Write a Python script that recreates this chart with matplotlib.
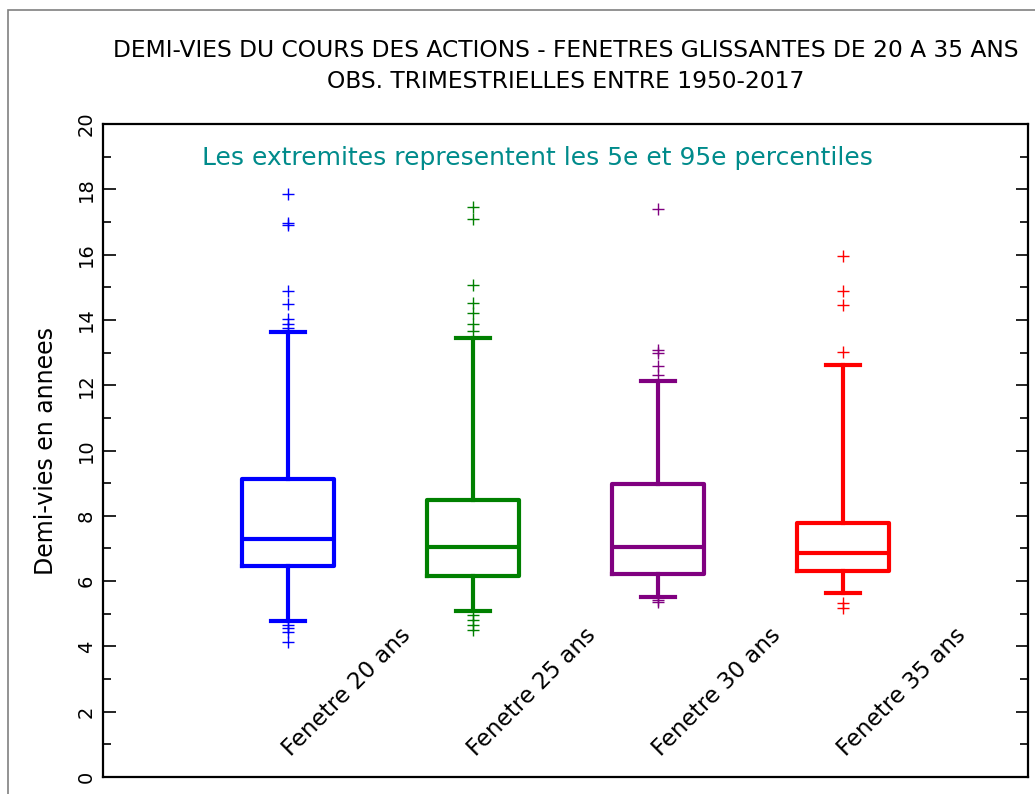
import matplotlib
matplotlib.use('Agg')
import matplotlib.pyplot as plt
from matplotlib.patches import Rectangle

# valeurs (annees)
labels = ['Fenetre 20 ans', 'Fenetre 25 ans', 'Fenetre 30 ans', 'Fenetre 35 ans']
colors = ['#0000FF', '#008000', '#800080', '#FF0000']
q1 = [6.46, 6.16, 6.22, 6.31]
med = [7.29, 7.04, 7.04, 6.86]
q3 = [9.13, 8.48, 8.97, 7.78]
p5 = [4.78, 5.08, 5.51, 5.64]
p95 = [13.63, 13.44, 12.13, 12.62]
fliers_20 = [17.86, 16.98, 16.90, 14.88, 14.50, 14.03, 13.87, 13.75, 4.66, 4.56, 4.44, 4.13]
fliers_25 = [17.46, 17.09, 15.07, 14.52, 14.20, 13.87, 13.66, 4.96, 4.81, 4.66, 4.50]
fliers_30 = [17.40, 13.08, 12.98, 12.60, 12.30, 5.42, 5.35]
fliers_35 = [15.96, 14.89, 14.46, 13.02, 5.33, 5.18]
fliers = [fliers_20, fliers_25, fliers_30, fliers_35]

fig = plt.figure(figsize=(10.35, 7.94), dpi=100)
ax = fig.add_axes([0.0995, 0.0214, 0.8937, 0.8224])

# cadre gris autour de la figure
fig.patches.append(Rectangle((8/1035, -0.1), 1.2, 1.1 - 10/794, transform=fig.transFigure,
                             fill=False, edgecolor='#808080', lw=1.2))

for i in range(4):
    st = [dict(med=med[i], q1=q1[i], q3=q3[i], whislo=p5[i], whishi=p95[i], fliers=fliers[i])]
    c = colors[i]
    ax.bxp(st, positions=[i + 1], widths=0.5, showfliers=True,
           boxprops=dict(color=c, lw=3),
           medianprops=dict(color=c, lw=3),
           whiskerprops=dict(color=c, lw=3),
           capprops=dict(color=c, lw=3),
           capwidths=0.18,
           flierprops=dict(marker='+', markeredgecolor=c, markersize=9, markeredgewidth=1, linestyle='none'))
    ax.text(i + 1.32, 2.6, labels[i], rotation=45, ha='center', va='center', fontsize=16.5)

ax.set_xlim(0, 5)
ax.set_ylim(0, 20)
ax.set_xticks([])
ax.set_yticks(range(0, 21, 2))
ax.set_yticks(range(1, 20, 2), minor=True)
ax.tick_params(axis='y', which='major', direction='in', length=9, width=1.2, right=True, labelsize=14, pad=5)
ax.tick_params(axis='y', which='minor', direction='in', length=6, width=1.2, right=True)
for lab in ax.get_yticklabels():
    lab.set_rotation(90)
    lab.set_va('center')
for s in ax.spines.values():
    s.set_linewidth(1.6)

ax.set_ylabel('Demi-vies en annees', fontsize=17, labelpad=14)

ax.text(2.35, 18.95, 'Les extremites representent les 5e et 95e percentiles', ha='center', va='center',
        fontsize=18, color='#008B8B')

fig.text(0.547, 0.937, 'DEMI-VIES DU COURS DES ACTIONS - FENETRES GLISSANTES DE 20 A 35 ANS',
         ha='center', va='center', fontsize=16.8)
fig.text(0.547, 0.897, 'OBS. TRIMESTRIELLES ENTRE 1950-2017', ha='center', va='center', fontsize=16.8)

fig.savefig('out.png', dpi=100)
